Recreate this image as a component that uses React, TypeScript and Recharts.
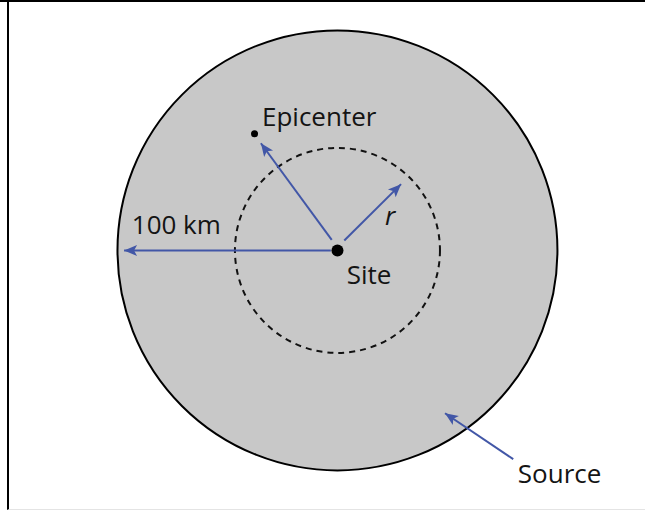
import { ScatterChart, Scatter, XAxis, YAxis } from 'recharts'

// coordinates in km, site at the origin
const X_DOMAIN: [number, number] = [-153.4, 139.8]
const Y_DOMAIN: [number, number] = [-118.9, 113.8]

const sourceZone = [{ x: 0, y: 0, radius: 100 }]
const distanceRing = [{ x: 0, y: 0, radius: 46.6 }]
const site = [{ x: 0, y: 0 }]
const epicenter = [{ x: -37.7, y: 53.0 }]

const arrows = [
  { name: '100 km', from: { x: -3, y: 0 }, to: { x: -97, y: 0 } },
  { name: 'epicenter', from: { x: -2.6, y: 4.8 }, to: { x: -34.8, y: 48.7 } },
  { name: 'r', from: { x: 3.1, y: 4.5 }, to: { x: 28.9, y: 30.1 } },
  { name: 'source', from: { x: 79.9, y: -94.9 }, to: { x: 48.9, y: -74.0 } },
]

const labels = [
  { x: -34.3, y: 56.6, text: 'Epicenter', italic: false },
  { x: -93.5, y: 7.5, text: '100 km', italic: false },
  { x: 4.2, y: -15.2, text: 'Site', italic: false },
  { x: 21.6, y: 11.6, text: 'r', italic: true },
  { x: 82, y: -105.7, text: 'Source', italic: false },
]

const W = 645
const H = 512
const PX_PER_KM = W / (X_DOMAIN[1] - X_DOMAIN[0])
const BLUE = '#4257a7'

// arrowhead drawn at the "to" point; the direction comes from the km delta
function ArrowHead(p: any) {
  const { cx, cy, payload } = p
  if (!payload.head) return <g />
  const dx = payload.dx * PX_PER_KM
  const dy = -payload.dy * PX_PER_KM
  const len = Math.hypot(dx, dy) || 1
  const ux = dx / len
  const uy = dy / len
  const L = 13
  const hw = 5.5
  const bx = cx - ux * L
  const by = cy - uy * L
  const nx = cx - ux * (L - 3)
  const ny = cy - uy * (L - 3)
  const pts = [
    `${cx},${cy}`,
    `${bx - uy * hw},${by + ux * hw}`,
    `${nx},${ny}`,
    `${bx + uy * hw},${by - ux * hw}`,
  ].join(' ')
  return <polygon points={pts} fill={BLUE} />
}

export default function App() {
  return (
    <div style={{ position: 'absolute', left: 0, top: 0, width: W, height: H, background: '#fff' }}>
      {/* frame */}
      <div style={{ position: 'absolute', left: 0, top: 0, width: W, height: 2, background: '#000' }} />
      <div
        style={{
          position: 'absolute', left: 7, top: 0, width: W - 7, height: 510,
          borderLeft: '2px solid #000', borderBottom: '1px solid #e4e4e4',
          boxSizing: 'border-box',
        }}
      />
      <div style={{ position: 'absolute', left: 0, top: 0 }}>
        <ScatterChart width={W} height={H} margin={{ top: 0, right: 0, bottom: 0, left: 0 }}>
          <XAxis type="number" dataKey="x" domain={X_DOMAIN} allowDataOverflow hide />
          <YAxis type="number" dataKey="y" domain={Y_DOMAIN} allowDataOverflow hide />

          <Scatter
            data={sourceZone}
            isAnimationActive={false}
            shape={(p: any) => (
              <circle cx={p.cx} cy={p.cy} r={p.payload.radius * PX_PER_KM}
                fill="#c8c8c8" stroke="#000" strokeWidth={2} />
            )}
          />
          <Scatter
            data={distanceRing}
            isAnimationActive={false}
            shape={(p: any) => (
              <circle cx={p.cx} cy={p.cy} r={p.payload.radius * PX_PER_KM}
                fill="none" stroke="#111" strokeWidth={2} strokeDasharray="6 5" />
            )}
          />

          {arrows.map(a => (
            <Scatter
              key={a.name}
              data={[
                { ...a.from, head: false, dx: 0, dy: 0 },
                { ...a.to, head: true, dx: a.to.x - a.from.x, dy: a.to.y - a.from.y },
              ]}
              line={{ stroke: BLUE, strokeWidth: 2 }}
              lineType="joint"
              isAnimationActive={false}
              shape={ArrowHead}
            />
          ))}

          <Scatter
            data={site}
            isAnimationActive={false}
            shape={(p: any) => <circle cx={p.cx} cy={p.cy} r={6} fill="#000" />}
          />
          <Scatter
            data={epicenter}
            isAnimationActive={false}
            shape={(p: any) => <circle cx={p.cx} cy={p.cy} r={3.5} fill="#000" />}
          />
          <Scatter
            data={labels}
            isAnimationActive={false}
            shape={(p: any) => (
              <text x={p.cx} y={p.cy} fill="#141414" fontSize={26}
                fontFamily="'Open Sans', sans-serif"
                fontStyle={p.payload.italic ? 'italic' : 'normal'}>
                {p.payload.text}
              </text>
            )}
          />
        </ScatterChart>
      </div>
    </div>
  )
}
